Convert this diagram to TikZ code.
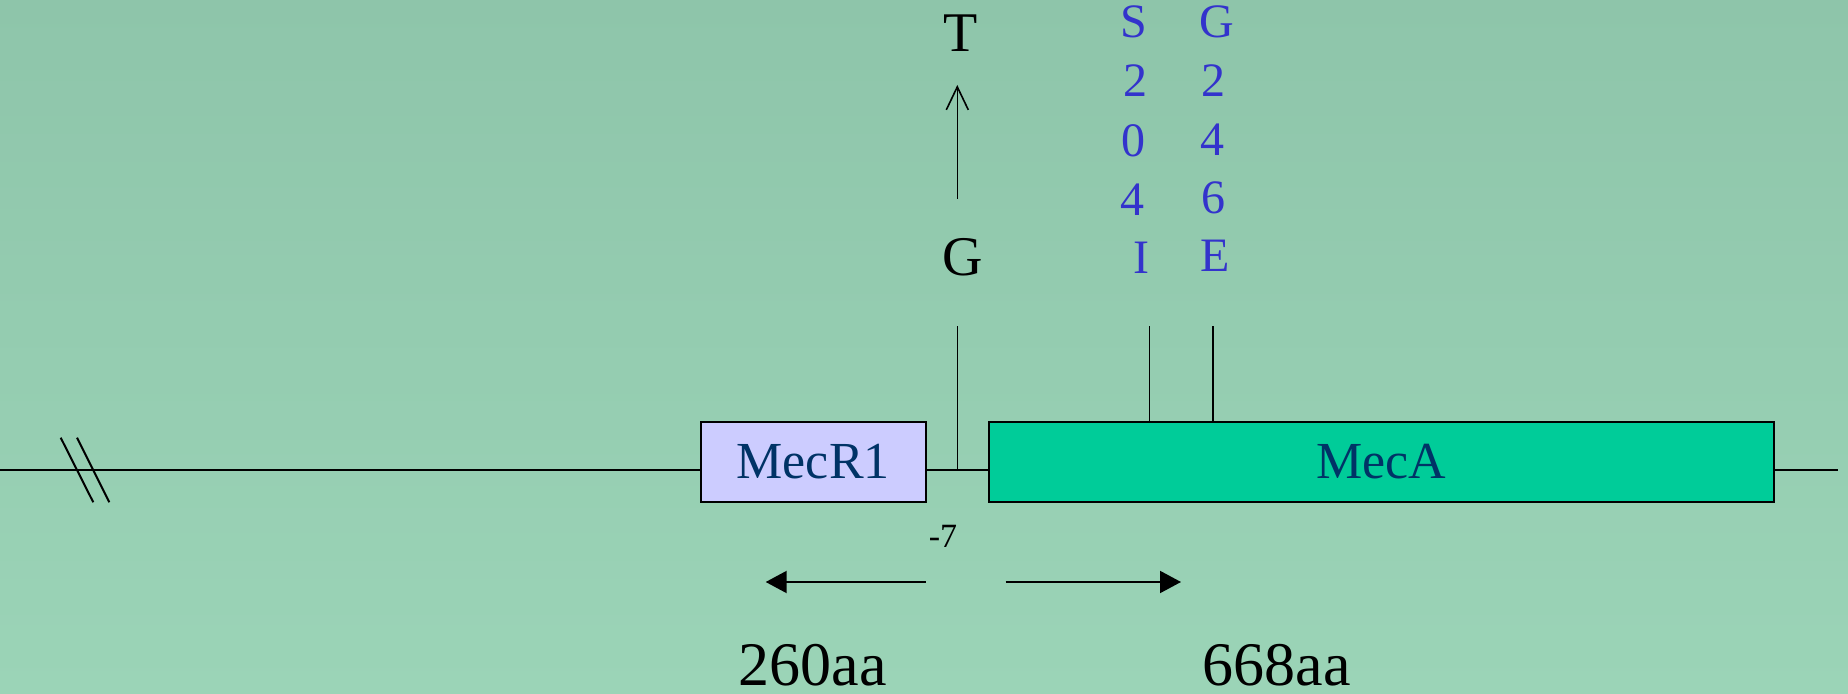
\documentclass[tikz,border=0pt]{standalone}
\usepackage{fontspec}
\setmainfont{Liberation Serif}
\usetikzlibrary{arrows.meta}
\definecolor{bgtop}{RGB}{142,197,170}
\definecolor{bgbot}{RGB}{155,212,183}
\definecolor{mutblue}{RGB}{51,51,204}
\definecolor{genetxt}{RGB}{0,51,102}
\definecolor{mecrfill}{RGB}{204,204,255}
\definecolor{mecafill}{RGB}{0,204,153}
\begin{document}
\begin{tikzpicture}[x=0.5pt,y=-0.5pt,
  genebox/.style={draw=black, line width=1pt, inner sep=0pt, text=genetxt,
    font=\fontsize{26}{28}\selectfont, minimum height=40pt},
  dna/.style={line width=1pt},
  tickline/.style={line width=0.8pt},
  mut/.style={text=mutblue, font=\fontsize{24}{26}\selectfont, anchor=base, inner sep=0pt},
  wt/.style={text=black, font=\fontsize{28}{30}\selectfont, anchor=base, inner sep=0pt},
  lenlabel/.style={text=black, font=\fontsize{31}{33}\selectfont, anchor=base, inner sep=0pt},
  small/.style={text=black, font=\fontsize{17}{19}\selectfont, anchor=base, inner sep=0pt},
  bigarrow/.style={line width=1pt, -{Triangle[length=10.5pt,width=11pt]}},
  uparrow/.style={line width=0.8pt, -{Straight Barb[length=11.5pt,width=11pt]}}
]
\shade[top color=bgtop, bottom color=bgbot] (0,0) rectangle (1848,694);
\useasboundingbox (0,0) rectangle (1848,694);

% genes
\node[genebox, fill=mecrfill, minimum width=112.5pt] (mecr) at (813.2,462) {MecR1};
\node[genebox, fill=mecafill, minimum width=392.2pt] (meca) at (1381.5,462) {MecA};

% DNA line
\coordinate (lend) at (0,470);
\coordinate (rend) at (1838,470);
\draw[dna] (lend) -- (lend -| mecr.west);
\draw[dna] (lend -| mecr.east) -- (lend -| meca.west);
\draw[dna] (lend -| meca.east) -- (rend);

% break marks
\coordinate (b1a) at (60.7,437.7);
\coordinate (b1b) at (93.3,502.3);
\coordinate (b2a) at (77,437.7);
\coordinate (b2b) at (109.3,502.3);
\draw[dna] (b1a) -- (b1b);
\draw[dna] (b2a) -- (b2b);

% promoter mutation -7 G->T
\coordinate (gbase) at (957.5,470);
\coordinate (gtop) at (957.5,326);
\draw[tickline] (gbase) -- (gtop);
\node[wt] (gwt) at (963,276) {G};
\node[wt] (tmut) at (961,52) {T};
\coordinate (uatail) at (957.3,199);
\coordinate (uahead) at (957.3,85);
\draw[uparrow] (uatail) -- (uahead);
\node[small] (m7) at (943,548) {-7};

% MecA mutations
\coordinate (s1base) at (1149.3,422);
\coordinate (s1top) at (1149.3,326);
\coordinate (g1base) at (1213.2,422);
\coordinate (g1top) at (1213.2,326);
\draw[tickline] (s1base) -- (s1top);
\draw[tickline] (g1base) -- (g1top);

\node[mut] (sa) at (1134,38) {S};
\node[mut] (sb) at (1135,97) {2};
\node[mut] (sc) at (1133,157) {0};
\node[mut] (sd) at (1132,216) {4};
\node[mut] (se) at (1141,274) {I};

\node[mut] (ga) at (1217,38) {G};
\node[mut] (gb) at (1213,97) {2};
\node[mut] (gc) at (1212,156) {4};
\node[mut] (gd) at (1213,214) {6};
\node[mut] (ge) at (1215,272) {E};

% length arrows
\coordinate (latail) at (925.7,582);
\coordinate (lahead) at (765.7,582);
\coordinate (ratail) at (1005.7,582);
\coordinate (rahead) at (1181,582);
\draw[bigarrow] (latail) -- (lahead);
\draw[bigarrow] (ratail) -- (rahead);

\node[lenlabel] (l260) at (812.7,685.5) {260aa};
\node[lenlabel] (l668) at (1276.6,685.5) {668aa};
\end{tikzpicture}
\end{document}
